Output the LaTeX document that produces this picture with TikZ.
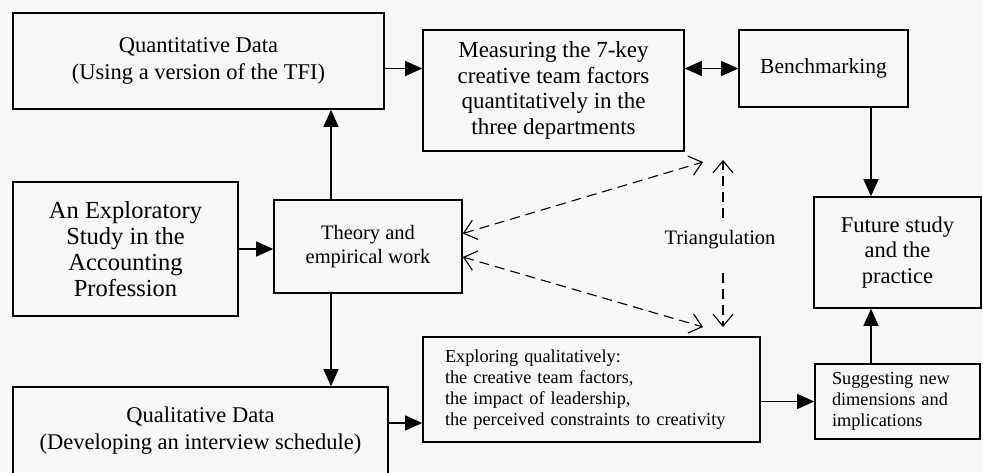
\documentclass[tikz,border=0pt]{standalone}
\usepackage{fontspec}
\setmainfont{Liberation Serif}
\usepackage{tikz}
\usetikzlibrary{arrows.meta}
\tikzset{%
  every box/.style={
    draw,
    line width=1.6pt,
    align=center,
    inner sep=0pt
  },
  big text/.style={font=\fontsize{22.5}{27}\selectfont},
  mid text/.style={font=\fontsize{20.5}{24}\selectfont},
  small text/.style={font=\fontsize{18.3}{20.8}\selectfont},
  link/.style={line width=1.2pt, ->},
  tri link/.style={line width=1.1pt, dash pattern=on 10pt off 6pt},
  barb/.tip={Straight Barb[length=12pt,width=20pt]},
}

\begin{document}
\begin{tikzpicture}[x=1pt, y=-1pt, >={Triangle[length=17pt,width=15pt]}]
\fill[black!3] (0,0) rectangle (983,472);
\useasboundingbox (0,0) rectangle (983,472);

% boxes
\node[every box, big text, minimum width=371pt, minimum height=96pt] (quant) at (198.5,61)
    {Quantitative Data\\(Using a version of the TFI)};
\node[every box, font=\fontsize{23}{25.7}\selectfont, minimum width=261pt, minimum height=121pt] (meas) at (553.5,90.5)
    {Measuring the 7-key\\creative team factors\\quantitatively in the\\three departments};
\node[every box, font=\fontsize{21.5}{24}\selectfont, minimum width=169pt, minimum height=77pt] (bench) at (823.5,68.5)
    {Benchmarking};
\node[every box, font=\fontsize{22.5}{25.5}\selectfont, minimum width=167pt, minimum height=111pt] (future) at (897.5,252.5)
    {Future study\\and the\\practice};
\node[every box, font=\fontsize{24.5}{26}\selectfont, minimum width=225pt, minimum height=134pt] (explo) at (125.5,249)
    {An Exploratory\\Study in the\\Accounting\\Profession};
\node[every box, mid text, minimum width=188pt, minimum height=93pt] (theory) at (368,246.5)
    {Theory and\\empirical work};
\node[every box, big text, minimum width=375pt, minimum height=87pt] (qual) at (200.5,430.5)
    {Qualitative Data\\(Developing an interview schedule)};
\node[every box, small text, align=left, inner xsep=22pt, text width=293pt, minimum height=105pt] (exploring) at (591.5,389.5)
    {Exploring qualitatively:\\the creative team factors,\\the impact of leadership,\\the perceived constraints to creativity};
\node[every box, small text, align=left, inner xsep=17pt, text width=131pt, minimum height=75pt] (suggest) at (897.5,401.5)
    {Suggesting new\\dimensions and\\implications};
\node[mid text, inner sep=0pt] (tri) at (720,240) {Triangulation};

% solid links
\coordinate (vline) at (331,0);
\coordinate (rline) at (871,0);
\draw[link] (quant.east |- bench) -- (meas.west |- bench);
\draw[link, <->] (meas.east |- bench) -- (bench.west);
\draw[link] (bench.south -| rline) -- (future.north -| rline);
\draw[link] (suggest.north -| rline) -- (future.south -| rline);
\draw[link] (explo.east) -- (explo.east -| theory.west);
\draw[link] (theory.north -| vline) -- (quant.south -| vline);
\draw[link] (theory.south -| vline) -- (qual.north -| vline);
\draw[link] ([yshift=7.5pt]qual.east) -- ([yshift=7.5pt]qual.east -| exploring.west);
\draw[link] (exploring.east |- suggest) -- (suggest.west);

% triangulation
\coordinate (tritop) at (723,160);
\coordinate (tribot) at (723,327);
\coordinate (upend) at (703,162);
\coordinate (lowend) at (703,327);
\draw[tri link, barb-barb] ([yshift=13pt]theory.east) -- (upend);
\draw[tri link, barb-barb] ([yshift=-10.5pt]theory.east) -- (lowend);
\draw[tri link, -barb] ([yshift=12pt]tri.north -| tritop) -- (tritop);
\draw[tri link, -barb] ([yshift=-23pt]tri.south -| tritop) -- (tribot);
\end{tikzpicture}
\end{document}
